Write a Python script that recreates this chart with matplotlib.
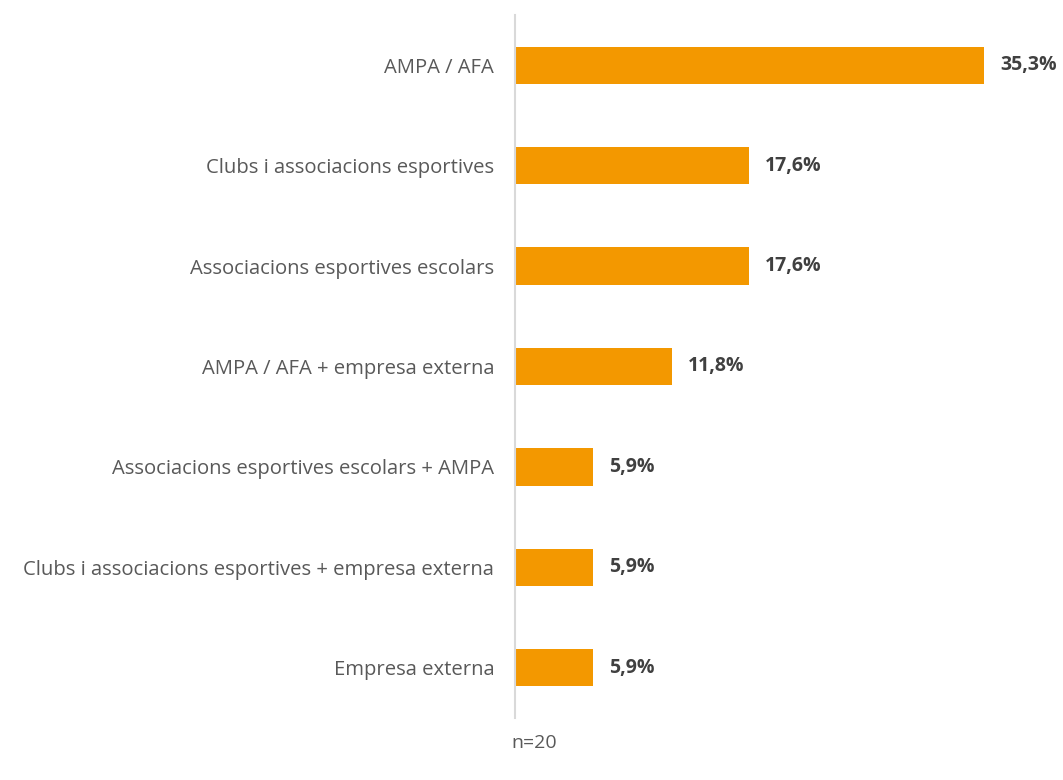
import matplotlib
matplotlib.use("Agg")
import matplotlib.pyplot as plt

# data
categories = ["AMPA / AFA",
              "Clubs i associacions esportives",
              "Associacions esportives escolars",
              "AMPA / AFA + empresa externa",
              "Associacions esportives escolars + AMPA",
              "Clubs i associacions esportives + empresa externa",
              "Empresa externa"]
values = [35.3, 17.6, 17.6, 11.8, 5.9, 5.9, 5.9]
value_labels = ["35,3%", "17,6%", "17,6%", "11,8%", "5,9%", "5,9%", "5,9%"]
note = "n=20"

W, H = 1063, 780
fig = plt.figure(figsize=(W / 100, H / 100), dpi=100)
xmax = 40
ax_w = xmax / 35.3 * 469
ax = fig.add_axes([515 / W, 1 - 718 / H, ax_w / W, (718 - 15) / H])

ypos = list(range(len(categories)))
ax.barh(ypos, values, height=0.37, color="#F39800")
ax.set_ylim(len(categories) - 0.5, -0.5)
ax.set_xlim(0, xmax)

for y, v, lab in zip(ypos, values, value_labels):
    ax.text(v + 1.2, y, lab, va="center", ha="left", fontsize=14,
            fontweight="bold", color="#404040", family="Open Sans")

ax.set_yticks(ypos)
ax.set_yticklabels(categories, fontsize=14.6, color="#595959", family="Open Sans")
ax.tick_params(axis="y", length=0, pad=15)
ax.set_xticks([])
for s in ["top", "right", "bottom"]:
    ax.spines[s].set_visible(False)
ax.spines["left"].set_color("#D9D9D9")
ax.spines["left"].set_linewidth(1.5)

fig.text(534 / W, 1 - 743 / H, note, ha="center", va="center",
         fontsize=14, color="#595959", family="Open Sans")

fig.savefig("out.png", dpi=100)
